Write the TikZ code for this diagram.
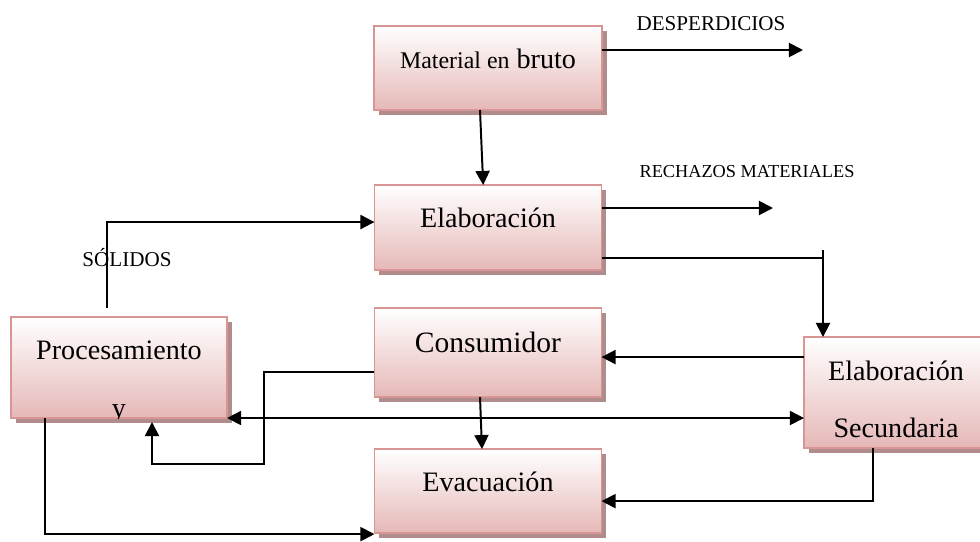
\documentclass[tikz,border=0pt]{standalone}
\usepackage{fontspec}
\setmainfont{Liberation Serif}
\usepackage{tikz}
\usetikzlibrary{positioning}
\usetikzlibrary{shadows}
\usetikzlibrary{arrows.meta}
\usetikzlibrary{calc}
\definecolor{borde}{RGB}{217,149,148}
\definecolor{fondo}{RGB}{229,184,183}
\definecolor{sombra}{RGB}{176,140,140}
\tikzset{
  caja/.style={draw=borde, line width=1.2pt, top color=white, bottom color=fondo,
    drop shadow={shadow xshift=3.5pt, shadow yshift=-3.5pt, fill=sombra, opacity=1},
    minimum width=5.675cm, minimum height=2.125cm, outer sep=0pt,
    font=\fontsize{20}{24}\selectfont, text height=14pt, text depth=14pt},
  flecha/.style={line width=1.4pt, -{Triangle[length=10pt,width=10pt]}},
  doble/.style={line width=1.2pt, {Triangle[length=10pt,width=10pt]}-{Triangle[length=10pt,width=10pt]}},
  linea/.style={line width=1.2pt},
  rotulo/.style={font=\fontsize{14}{17}\selectfont, anchor=base}
}

\begin{document}
\begin{tikzpicture}[x=0.025cm, y=-0.025cm]
        \useasboundingbox (0,0) rectangle (980,541);
        % cajas centrales
        \node[caja, minimum width=5.7cm, minimum height=2.1cm] (mat) at (488,68) {{\fontsize{17}{20}\selectfont Material en} bruto};
        \node[caja, below=1.875cm of mat] (elab) {Elaboración};
        \node[caja, minimum height=2.225cm, below=0.95cm of elab, font=\fontsize{21}{25}\selectfont] (cons) {Consumidor};
        \node[caja, minimum height=2.1cm, below=1.3cm of cons] (evac) {Evacuación};
        % cajas laterales
        \node[caja, minimum width=5.4cm, minimum height=2.525cm, text depth=26pt] (proc) at (119,367.5) {Procesamiento};
        \node[caja, minimum width=4.6cm, minimum height=2.775cm, align=center, text height=64.7pt, text depth=0pt] (sec) at (896,392.5) {Elaboración\\[17pt]Secundaria};
        \begin{scope}
          \clip (proc.south west) rectangle (proc.north east);
          \node[anchor=base, font=\fontsize{20}{24}\selectfont] (procy) at ($(proc.south)+(0,-1)$) {y};
        \end{scope}

        % rotulos
        \node[rotulo, font=\fontsize{15}{18}\selectfont] (desp) at (711,30) {DESPERDICIOS};
        \node[rotulo, font=\fontsize{13}{16}\selectfont] (rech) at (747,177) {RECHAZOS MATERIALES};
        \node[rotulo, font=\fontsize{15}{18}\selectfont] (sol) at (127,266) {SÓLIDOS};

        % puntos sueltos
        \coordinate (findesp) at (803,50);
        \coordinate (finrech) at (773,208);
        \coordinate (esq) at (823,258);
        \coordinate (giro) at (264,464);
        \coordinate (entcons) at ($(cons.east)+(0,4.5)$);

        % flechas
        \draw[flecha] (mat.east |- findesp) -- (findesp);
        \draw[flecha] ([xshift=-0.2cm]mat.south) -- ([xshift=-0.12cm]elab.north);
        \draw[flecha] (elab.east |- finrech) -- (finrech);
        \draw[linea] (elab.east |- esq) -- (esq);
        \draw[flecha] ([yshift=0.2cm]esq) -- (sec.north -| esq);
        \draw[flecha] (sec.west |- entcons) -- (entcons);
        \draw[flecha] ([xshift=-0.2cm]cons.south) -- ([xshift=-0.15cm]evac.north);
        \draw[flecha] ($(proc.north)+(-12,-9)$) |- ($(elab.west)+(0,-5.5)$);
        \draw[flecha] ($(cons.west)+(0,19.5)$) -| (giro) -| ($(proc.south)+(33,4)$);
        \draw[doble] (proc.south east) -- (sec.west |- proc.south east);
        \draw[flecha] ($(sec.south)+(-23,0)$) |- ($(evac.east)+(0,10)$);
        \draw[flecha] ($(proc.south)+(-74,0)$) |- ($(evac.west)+(0,43)$);
\end{tikzpicture}
\end{document}
